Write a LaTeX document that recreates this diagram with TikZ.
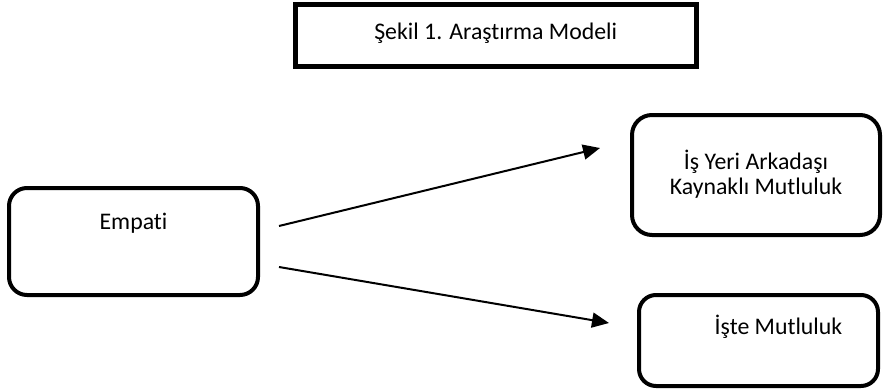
\documentclass[tikz,border=0pt]{standalone}
\usepackage{fontspec}
\setmainfont{Carlito}[Ligatures=NoCommon]
\usetikzlibrary{arrows.meta}
\begin{document}
\begin{tikzpicture}[x=1pt,y=-1pt,
		yazi/.style={font=\fontsize{23.8}{25}\selectfont},
		kutu/.style={draw, line width=4pt, rounded corners=18pt, inner sep=0pt, outer sep=0pt, yazi},
		ok/.style={line width=2pt, -{Triangle[length=17pt,width=15pt]}}]
		\useasboundingbox (0,0) rectangle (883,391);
		\fill[white] (0,0) rectangle (883,391);
	
		\node[draw, line width=5pt, inner sep=0pt, outer sep=0pt, yazi, minimum width=400.5pt, text height=34.5pt, text depth=27.5pt] (baslik) at (495.75,35.5) {Şekil 1. Araştırma Modeli};
	
		\node[kutu, minimum width=249pt, text height=41pt, text depth=66pt] (empati) at (133.5,241.5) {Empati};
		\node[kutu, align=center, minimum width=248pt, text height=79pt, text depth=41pt, rounded corners=20pt] (arkadas) at (756,175) {İş Yeri Arkadaşı\\Kaynaklı Mutluluk};
		\node[kutu, minimum width=239pt, text height=39pt, text depth=52pt, rounded corners=17pt] (iste) at (758.5,340.5) {\hspace*{40pt}İşte Mutluluk};
	
		\draw[ok] ([xshift=21pt,yshift=15.5pt]empati.east) -- ([xshift=-32pt,yshift=27pt]arkadas.west);
		\draw[ok] ([xshift=21pt,yshift=-25.5pt]empati.east) -- ([xshift=-30pt,yshift=17.5pt]iste.west);
	\end{tikzpicture}
\end{document}
